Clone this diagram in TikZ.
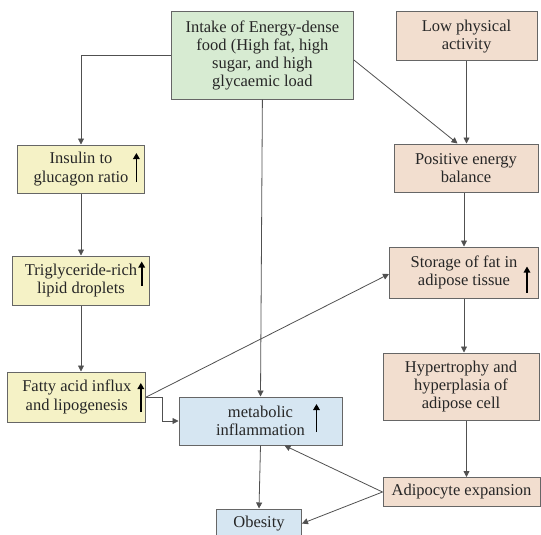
\documentclass[tikz,border=0pt]{standalone}
\usepackage{fontspec}
\setmainfont{Liberation Serif}
\usetikzlibrary{arrows.meta}
\definecolor{cgreen}{HTML}{D7EBD2}
\definecolor{ctan}{HTML}{F2DECF}
\definecolor{cyel}{HTML}{F5F2C6}
\definecolor{cblue}{HTML}{D6E6F2}
\definecolor{cedge}{HTML}{666666}
\definecolor{cline}{HTML}{505050}
\tikzset{
 box/.style={draw=cedge, line width=1pt, align=center, inner sep=0pt, font=\fontsize{16.5}{18.3}\selectfont, text=black!85},
 conn/.style={draw=cline, line width=0.8pt, -{Triangle[length=6pt,width=6pt]}},
 uparr/.style={draw=black, line width=1.8pt, -{Triangle[length=6pt,width=6.5pt]}},
}
\begin{document}
\begin{tikzpicture}[x=1pt,y=-1pt]
\useasboundingbox (0,0) rectangle (541,535);
\clip (0,0) rectangle (541,535);
\node[box, fill=cgreen, minimum width=182pt, minimum height=87pt] (intake) at (262.4,55.5) {Intake of Energy-dense\\food (High fat, high\\sugar, and high\\glycaemic load};
\node[box, fill=ctan, minimum width=141pt, minimum height=49pt] (low) at (466.5,36.5) {Low physical\\activity};
\node[box, fill=cyel, minimum width=127pt, minimum height=48pt] (ins) at (81,169) {Insulin to\\glucagon ratio};
\node[box, fill=ctan, minimum width=144pt, minimum height=48pt] (peb) at (466,168) {Positive energy\\balance};
\node[box, fill=cyel, minimum width=137pt, minimum height=49pt] (tri) at (81,280.5) {Triglyceride-rich\\lipid droplets};
\node[box, fill=ctan, minimum width=149pt, minimum height=51pt] (sto) at (464,272.5) {Storage of fat in\\adipose tissue};
\node[box, fill=cyel, minimum width=138pt, minimum height=50pt] (fat) at (76.8,397) {Fatty acid influx\\and lipogenesis};
\node[box, fill=cblue, minimum width=163pt, minimum height=48pt] (met) at (260.5,421) {metabolic\\inflammation};
\node[box, fill=ctan, minimum width=156pt, minimum height=67pt] (hyp) at (461,386.5) {Hypertrophy and\\hyperplasia of\\adipose cell};
\node[box, fill=ctan, minimum width=157pt, minimum height=29pt] (adi) at (461.5,492) {Adipocyte expansion};
\node[box, fill=cblue, minimum width=85pt, minimum height=29pt] (obe) at (259,523.5) {Obesity};
% up arrows
\draw[uparr] ([xshift=-8.6pt,yshift=-13pt]ins.east) -- ([xshift=-8.6pt,yshift=16pt]ins.east);
\draw[uparr] ([xshift=-8.3pt,yshift=-5pt]tri.east) -- ([xshift=-8.3pt,yshift=19pt]tri.east);
\draw[uparr] ([xshift=-5.5pt,yshift=-15pt]fat.east) -- ([xshift=-5.5pt,yshift=14pt]fat.east);
\draw[uparr] ([xshift=-26pt,yshift=-11pt]met.east) -- ([xshift=-26pt,yshift=17pt]met.east);
\draw[uparr] ([xshift=-12pt,yshift=-20pt]sto.east) -- ([xshift=-12pt,yshift=6pt]sto.east);
% connectors
\draw[conn] (intake.west) -| (ins.north);
\draw[conn] (intake.south) -- (met.north);
\draw[conn] ([yshift=-4.5pt]intake.east) -- ([xshift=-8.5pt]peb.north);
\draw[conn] (low.south) -- (low.south |- peb.north);
\draw[conn] (ins.south) -- (tri.north);
\draw[conn] (tri.south) -- (tri.south |- fat.north);
\draw[conn] (fat.east) -- ([yshift=-1.5pt]sto.west);
\draw[conn] (fat.east) -- ++(16,0) |- (met.west);
\draw[conn] (sto.north |- peb.south) -- (sto.north);
\draw[conn] (sto.south) -- (sto.south |- hyp.north);
\draw[conn] (low.south |- hyp.south) -- (low.south |- adi.north);
\draw[conn] (adi.west) -- ([xshift=24pt]met.south);
\draw[conn] (adi.west) -- (obe.east);
\draw[conn] (met.south) -- (obe.north);
\end{tikzpicture}
\end{document}
